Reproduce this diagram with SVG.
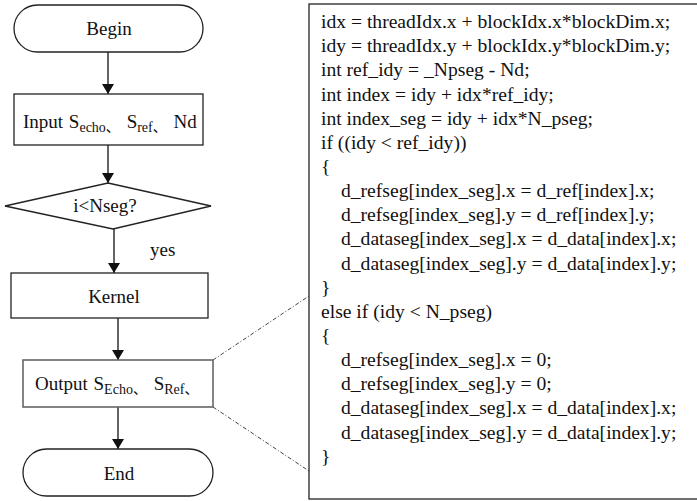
<svg xmlns="http://www.w3.org/2000/svg" width="697" height="501" viewBox="0 0 697 501">
  <defs>
    <marker id="arrow" viewBox="0 0 10 12" refX="10" refY="6" markerWidth="10" markerHeight="12" markerUnits="userSpaceOnUse" orient="auto">
      <path d="M0,0 L10,6 L0,12 Z" fill="#111"/>
    </marker>
    <style>
      .shape { fill: #fff; stroke: #222; stroke-width: 1.3; }
      .grey { fill: #fff; stroke: #666; stroke-width: 1.6; }
      .flow { stroke: #111; stroke-width: 1.3; fill: none; }
      .zoom { stroke: #444; stroke-width: 1; fill: none; stroke-dasharray: 4 2 1 2; }
      .lbl { font-family: "Liberation Serif", "Times New Roman", "Noto Sans CJK SC", serif; font-size: 19px; fill: #111; }
      .sub { font-size: 14px; }
      .code { font-family: "Liberation Serif", "Times New Roman", serif; font-size: 19.6px; fill: #111; }
    </style>
  </defs>
  <rect width="697" height="501" fill="#fff"/>

  <!-- flow connectors -->
  <g id="connectors">
    <line class="flow" x1="108" y1="52" x2="108" y2="94" marker-end="url(#arrow)"/>
    <line class="flow" x1="108" y1="145" x2="108" y2="183" marker-end="url(#arrow)"/>
    <line class="flow" x1="114" y1="229" x2="114" y2="273" marker-end="url(#arrow)"/>
    <line class="flow" x1="118" y1="318" x2="118" y2="360" marker-end="url(#arrow)"/>
    <line class="flow" x1="118" y1="407" x2="118" y2="449" marker-end="url(#arrow)"/>
    <line class="zoom" x1="213" y1="360" x2="309" y2="296"/>
    <line class="zoom" x1="213" y1="407" x2="309" y2="471"/>
    <text class="lbl" x="150" y="256">yes</text>
  </g>

  <g id="begin">
    <rect class="shape" x="14" y="5" width="189" height="47" rx="23.5" ry="23.5"/>
    <text class="lbl" x="109" y="35" text-anchor="middle">Begin</text>
  </g>

  <g id="input">
    <rect class="shape" x="14" y="94" width="189" height="51"/>
    <text class="lbl" x="23" y="128">Input <tspan dx="1">S</tspan><tspan class="sub" dy="4">echo、</tspan><tspan dy="-4" dx="2"> S</tspan><tspan class="sub" dy="4">ref、</tspan><tspan dy="-4" dx="2"> Nd</tspan></text>
  </g>

  <g id="decision">
    <polygon class="shape" points="108,183 211,206 113,229 5,206"/>
    <text class="lbl" x="105" y="212" text-anchor="middle">i&lt;Nseg?</text>
  </g>

  <g id="kernel">
    <rect class="shape" x="11" y="273" width="197" height="45"/>
    <text class="lbl" x="114" y="303" text-anchor="middle">Kernel</text>
  </g>

  <g id="output">
    <rect class="grey" x="23" y="360" width="190" height="47"/>
    <text class="lbl" x="35" y="390">Output <tspan dx="1">S</tspan><tspan class="sub" dy="4">Echo、</tspan><tspan dy="-4" dx="2"> S</tspan><tspan class="sub" dy="4">Ref、</tspan></text>
  </g>

  <g id="end">
    <rect class="shape" x="23" y="449" width="190" height="47" rx="23.5" ry="23.5"/>
    <text class="lbl" x="119" y="480" text-anchor="middle">End</text>
  </g>

  <!-- kernel source listing -->
  <g id="kernel-code">
    <rect class="shape" x="309" y="4" width="390" height="495"/>
    <g class="code">
      <text x="321" y="28">idx = threadIdx.x + blockIdx.x*blockDim.x;</text>
      <text x="321" y="52.2">idy = threadIdx.y + blockIdx.y*blockDim.y;</text>
      <text x="321" y="76.3">int ref_idy = _Npseg - Nd;</text>
      <text x="321" y="100.5">int index = idy + idx*ref_idy;</text>
      <text x="321" y="124.6">int index_seg = idy + idx*N_pseg;</text>
      <text x="321" y="148.8">if ((idy &lt; ref_idy))</text>
      <text x="321" y="172.9">{</text>
      <text x="341" y="197.1">d_refseg[index_seg].x = d_ref[index].x;</text>
      <text x="341" y="221.2">d_refseg[index_seg].y = d_ref[index].y;</text>
      <text x="341" y="245.4">d_dataseg[index_seg].x = d_data[index].x;</text>
      <text x="341" y="269.5">d_dataseg[index_seg].y = d_data[index].y;</text>
      <text x="321" y="293.7">}</text>
      <text x="321" y="317.8">else if (idy &lt; N_pseg)</text>
      <text x="321" y="342">{</text>
      <text x="341" y="366.1">d_refseg[index_seg].x = 0;</text>
      <text x="341" y="390.3">d_refseg[index_seg].y = 0;</text>
      <text x="341" y="414.4">d_dataseg[index_seg].x = d_data[index].x;</text>
      <text x="341" y="438.6">d_dataseg[index_seg].y = d_data[index].y;</text>
      <text x="321" y="462.7">}</text>
    </g>
  </g>
</svg>
